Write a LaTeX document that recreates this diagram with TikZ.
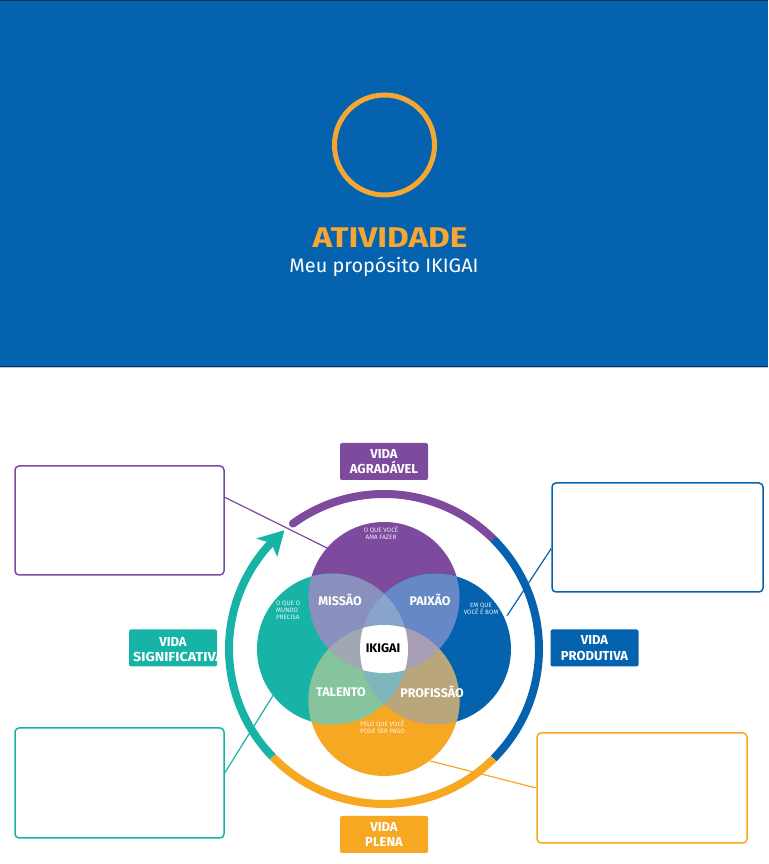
\documentclass[tikz,border=0pt]{standalone}
\usepackage{fontspec}
\setmainfont{Fira Sans}
\usetikzlibrary{calc}
\definecolor{bandblue}{HTML}{0562AE}
\definecolor{bandnavy}{HTML}{0B2F5C}
\definecolor{bandlight}{HTML}{B3CDE6}
\definecolor{ttlorange}{HTML}{F4A733}
\definecolor{ipurple}{HTML}{7D4A9D}
\definecolor{iblue}{HTML}{0562AE}
\definecolor{iteal}{HTML}{17B3A6}
\definecolor{iorange}{HTML}{F7A823}
\definecolor{cmissao}{HTML}{8A90BE}
\definecolor{cpaixao}{HTML}{6788C6}
\definecolor{ctalento}{HTML}{86C49E}
\definecolor{cprofissao}{HTML}{B9A67A}
\definecolor{ctop}{HTML}{88A3CC}
\definecolor{cleft}{HTML}{A0A8B4}
\definecolor{cright}{HTML}{A89FB6}
\definecolor{cbottom}{HTML}{7DB7BD}
\begin{document}
\begin{tikzpicture}[x=1pt,y=1pt,
  circ/.style={circle, minimum size=151pt, inner sep=0pt, outer sep=0pt},
  ring/.style={line width=8pt},
  lbl/.style={text=white, font=\bfseries\fontsize{12.5}{12.5}\selectfont, inner sep=0pt},
  small/.style={text=white, font=\fontsize{6.3}{7}\selectfont, inner sep=0pt, opacity=0.9},
  vbox/.style={rounded corners=2pt, minimum width=88pt, minimum height=37pt, inner sep=0pt},
  vtext/.style={text=white, align=center, font=\bfseries\fontsize{13}{15.5}\selectfont, inner sep=0pt},
  tbox/.style={draw, fill=white, line width=1.5pt, rounded corners=4pt, inner sep=0pt},
  conn/.style={line width=1.2pt}
]
\useasboundingbox (0,0) rectangle (768,864);
\fill[white] (0,0) rectangle (768,864);
% header band
\fill[bandblue] (0,497) rectangle (768,864);
\draw[bandnavy, line width=1pt] (0,863.5) -- (768,863.5);
\draw[bandnavy, line width=1.2pt] (0,497.4) -- (768,497.4);
\draw[bandlight, line width=0.8pt] (0,496.4) -- (768,496.4);
\node[draw=ttlorange, line width=5pt, circle, minimum size=100pt, inner sep=0pt] (logo) at (384.5,719) {};
\node[text=ttlorange, font=\bfseries\fontsize{28.5}{28.5}\selectfont, anchor=base, inner sep=0pt, xscale=1.17] (title) at (390,616) {ATIVIDADE};
\node[text=white, font=\fontsize{19.5}{19.5}\selectfont, anchor=base, inner sep=0pt, xscale=1.02] (subtitle) at (384,591) {Meu propósito IKIGAI};

% ring
\coordinate (C) at (384,215);
\draw[ring, ipurple, line cap=round] ($(C)+(126:155)$) arc[start angle=126, end angle=45, radius=155];
\draw[ring, iblue] ($(C)+(45:155)$) arc[start angle=45, end angle=-45, radius=155];
\draw[ring, iorange] ($(C)+(-45:155)$) arc[start angle=-45, end angle=-136, radius=155];
\draw[ring, iteal] ($(C)+(224:155)$) arc[start angle=224, end angle=136.5, radius=155];
\fill[iteal] ($(C)+(130:155)$) -- ($(C)+(139.2:169)$) -- ($(C)+(136.8:155)$) -- ($(C)+(139.2:141)$) -- cycle;

% circles
\node[circ, fill=ipurple] (P) at (384,266.5) {};
\node[circ, fill=iteal] (T) at (332.5,215) {};
\node[circ, fill=iblue] (B) at (435.5,215) {};
\node[circ, fill=iorange] (O) at (384,163.5) {};
\begin{scope}\clip (P.center) circle (75.5); \fill[cmissao] (T.center) circle (75.5);\end{scope}
\begin{scope}\clip (P.center) circle (75.5); \fill[cpaixao] (B.center) circle (75.5);\end{scope}
\begin{scope}\clip (T.center) circle (75.5); \fill[ctalento] (O.center) circle (75.5);\end{scope}
\begin{scope}\clip (B.center) circle (75.5); \fill[cprofissao] (O.center) circle (75.5);\end{scope}
\begin{scope}\clip (P.center) circle (75.5); \clip (T.center) circle (75.5); \fill[ctop] (B.center) circle (75.5);\end{scope}
\begin{scope}\clip (P.center) circle (75.5); \clip (T.center) circle (75.5); \fill[cleft] (O.center) circle (75.5);\end{scope}
\begin{scope}\clip (P.center) circle (75.5); \clip (B.center) circle (75.5); \fill[cright] (O.center) circle (75.5);\end{scope}
\begin{scope}\clip (T.center) circle (75.5); \clip (B.center) circle (75.5); \fill[cbottom] (O.center) circle (75.5);\end{scope}
\begin{scope}\clip (P.center) circle (75.5); \clip (T.center) circle (75.5); \clip (B.center) circle (75.5); \fill[white] (O.center) circle (75.5);\end{scope}

% circle texts
\node[small, align=center] (tP) at (381,331) {O QUE VOCÊ\\AMA FAZER};
\node[small, align=left, anchor=north west] (tT) at (276,263) {O QUE O\\MUNDO\\PRECISA};
\node[small, align=center] (tB) at (481,255.5) {EM QUE\\VOCÊ É BOM};
\node[small, align=left, anchor=west] (tO) at (360,136.5) {PELO QUE VOCÊ\\PODE SER PAGO};
\node[lbl] (missao) at (340,264) {MISSÃO};
\node[lbl] (paixao) at (430,264) {PAIXÃO};
\node[lbl, text=black] (ikigai) at (383,216) {IKIGAI};
\node[lbl] (talento) at (341,172) {TALENTO};
\node[lbl] (profissao) at (432,172) {PROFISSÃO};

% vida boxes
\node[vbox, fill=ipurple] (va) at (384,402.5) {};
\node[vtext] (vat) at (va.center) {VIDA\\AGRADÁVEL};
\node[vbox, fill=iblue] (vp) at (594.5,216) {};
\node[vtext] (vpt) at (vp.center) {VIDA\\PRODUTIVA};
\node[vbox, fill=iorange] (vl) at (384,29.5) {};
\node[vtext] (vlt) at (vl.center) {VIDA\\PLENA};
\node[vbox, fill=iteal] (vs) at (173,216) {};
\begin{scope}
\clip[rounded corners=2pt] (vs.south west) rectangle (vs.north east);
\node[vtext] (vst1) at (173,222.5) {VIDA};
\node[vtext, anchor=west, xscale=1.1] (vst2) at (133,207.5) {SIGNIFICATIVA};
\end{scope}

% text boxes
\node[tbox, draw=ipurple, minimum width=209pt, minimum height=109pt] (tl) at (119.5,343.5) {};
\node[tbox, draw=iblue, minimum width=211pt, minimum height=109pt] (tr) at (657.5,326.5) {};
\node[tbox, draw=iteal, minimum width=209pt, minimum height=110pt] (bl) at (119.5,81) {};
\node[tbox, draw=iorange, minimum width=210pt, minimum height=110pt] (br) at (642,76) {};

% connectors
\draw[conn, ipurple] ($(tl.north east)!0.29!(tl.south east)$) -- (P.139);
\draw[conn, iblue] ($(tr.north west)!0.6!(tr.south west)$) -- ($(B.center)+(25:79)$);
\draw[conn, iteal] ($(bl.north east)!0.41!(bl.south east)$) -- (T.218);
\draw[conn, iorange] (br.west) -- (O.-53);
\end{tikzpicture}
\end{document}
